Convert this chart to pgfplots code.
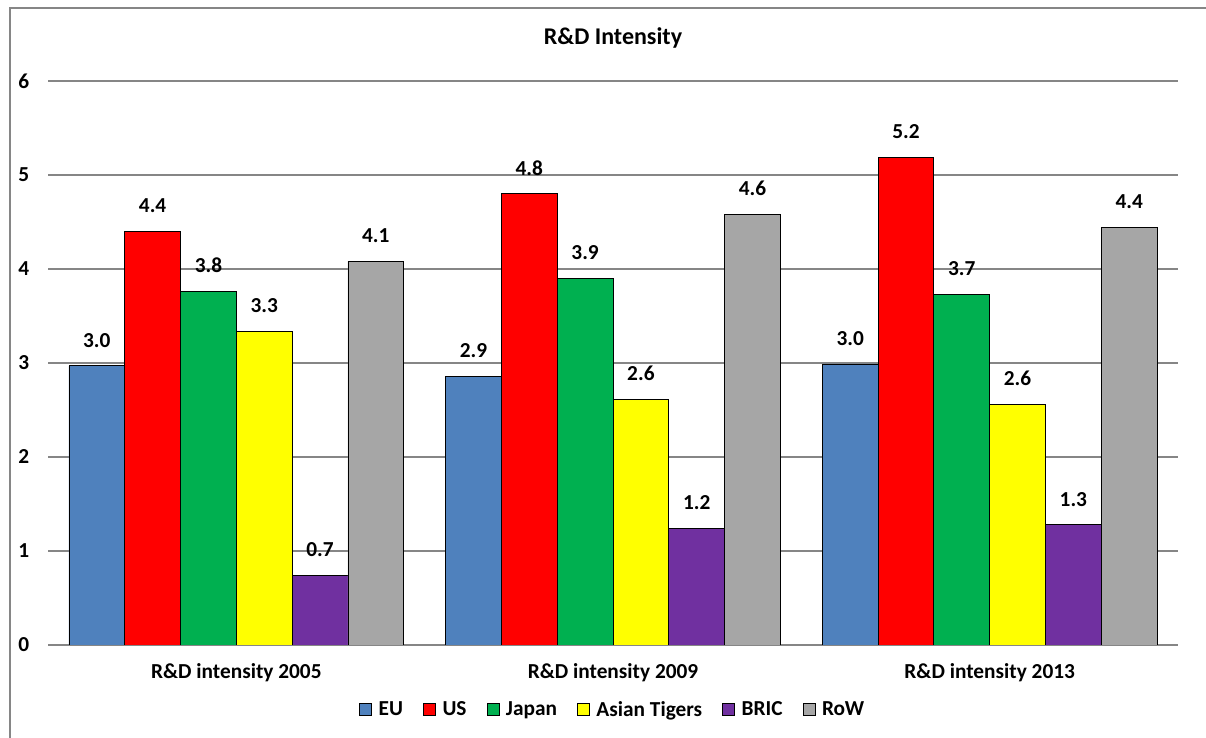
\documentclass[border=0pt]{standalone}
\usepackage{pgfplots}
\pgfplotsset{compat=1.18}
\usepackage{fontspec}
\setmainfont{Carlito}

\definecolor{cEU}{RGB}{79,129,189}
\definecolor{cUS}{RGB}{255,0,0}
\definecolor{cJP}{RGB}{0,176,80}
\definecolor{cAT}{RGB}{255,255,0}
\definecolor{cBR}{RGB}{112,48,160}
\definecolor{cRW}{RGB}{166,166,166}
\definecolor{gridc}{RGB}{134,134,134}
\newcommand\F{\fontsize{16}{18}\selectfont\bfseries}
\newcommand\T{\fontsize{18}{20}\selectfont\bfseries}

\begin{document}
\begin{tikzpicture}
\begin{axis}[
    scale only axis,
    width=847.5pt, height=423pt,
    ybar=0pt, bar width=41.85pt,
    xmin=-0.5, xmax=2.5,
    ymin=0, ymax=6,
    ytick={0,1,...,6},
    xtick={0,1,2},
    xticklabels={R\&D intensity 2005, R\&D intensity 2009, R\&D intensity 2013},
    major tick length=0pt,
    /pgf/number format/assume math mode=true,
    tick label style={font=\F},
    ymajorgrids,
    grid style={gridc, line width=1.1pt},
    axis x line*=bottom, axis y line*=left,
    x axis line style={gridc, line width=1.1pt, -},
    y axis line style={draw=none},
    yticklabel style={inner sep=0pt, anchor=east, xshift=-14pt},
    xticklabel style={inner sep=0pt, anchor=base, yshift=-25.5pt},
    title={R\&D Intensity},
    title style={at={(0.5,1)}, anchor=base, yshift=21pt, inner sep=0pt, font=\T},
    every axis plot/.append style={draw=black, line width=0.6pt},
    nodes near coords,
    point meta=y,
    every node near coord/.append style={anchor=base, inner sep=0pt, yshift=14pt, black, font=\F,
        /pgf/number format/.cd, fixed, zerofill, precision=1, assume math mode=true},
    legend columns=-1,
    legend style={at={(0.5,0)}, anchor=north, yshift=-40pt, draw=none, inner sep=0pt, font=\F,
        /tikz/every odd column/.append style={column sep=3pt},
        /tikz/every even column/.append style={column sep=13pt}},
    legend image code/.code={\draw[#1, draw=black, line width=0.6pt] (0pt,-4.5pt) rectangle (9pt,4.5pt);},
]
\coordinate (ll) at (rel axis cs:0,0);
\coordinate (ur) at (rel axis cs:1,1);
\addplot[fill=cEU] coordinates {(0,2.97) (1,2.86) (2,2.99)};
\addplot[fill=cUS] coordinates {(0,4.40) (1,4.80) (2,5.19)};
\addplot[fill=cJP] coordinates {(0,3.76) (1,3.90) (2,3.73)};
\addplot[fill=cAT] coordinates {(0,3.34) (1,2.61) (2,2.56)};
\addplot[fill=cBR] coordinates {(0,0.74) (1,1.24) (2,1.28)};
\addplot[fill=cRW] coordinates {(0,4.08) (1,4.58) (2,4.44)};
\legend{EU, US, Japan, Asian Tigers, BRIC, RoW}
\end{axis}
\draw[gridc, line width=1pt] ([shift={(-28.5pt,-90pt)}]ll) -- ([shift={(-28.5pt,54.75pt)}]ll |- ur) -- ([shift={(40pt,54.75pt)}]ur);
\pgfresetboundingbox
\path[use as bounding box] ([shift={(-36pt,-69.75pt)}]ll) rectangle ([shift={(21pt,60.75pt)}]ur);
\end{tikzpicture}
\end{document}
